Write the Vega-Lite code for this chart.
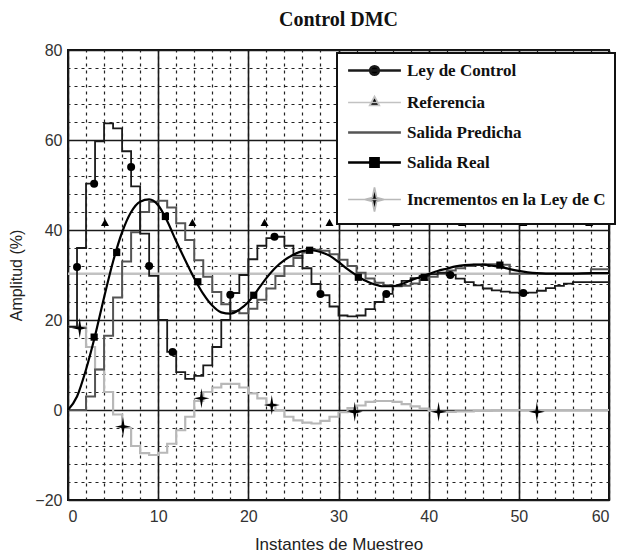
{
  "$schema": "https://vega.github.io/schema/vega-lite/v6.json",
  "width": 541,
  "height": 450,
  "autosize": {"type": "none"},
  "padding": {"left": 68, "top": 50, "right": 11, "bottom": 58},
  "background": "white",
  "title": {"text": "Control DMC", "font": "Liberation Serif", "fontSize": 20, "fontWeight": "bold", "color": "#111", "offset": 12, "anchor": "middle"},
  "config": {
    "view": {"stroke": "#111", "strokeWidth": 2},
    "legend": {"orient": "none", "legendX": 269, "legendY": 3}
  },
  "resolve": {"axis": {"x": "independent", "y": "independent"}},
  "datasets": {
    "lines": [
      {"series": "Referencia", "x": 0, "y": 30.3}, {"series": "Referencia", "x": 60, "y": 30.3},

      {"series": "Incrementos en la Ley de C", "x": 0, "y": 18.5}, {"series": "Incrementos en la Ley de C", "x": 1, "y": 18.5}, {"series": "Incrementos en la Ley de C", "x": 2, "y": 14}, {"series": "Incrementos en la Ley de C", "x": 3, "y": 9}, {"series": "Incrementos en la Ley de C", "x": 4, "y": 4}, {"series": "Incrementos en la Ley de C", "x": 5, "y": -1}, {"series": "Incrementos en la Ley de C", "x": 6, "y": -4}, {"series": "Incrementos en la Ley de C", "x": 7, "y": -8}, {"series": "Incrementos en la Ley de C", "x": 8, "y": -9.6}, {"series": "Incrementos en la Ley de C", "x": 9, "y": -10}, {"series": "Incrementos en la Ley de C", "x": 10, "y": -9.5}, {"series": "Incrementos en la Ley de C", "x": 11, "y": -7.5}, {"series": "Incrementos en la Ley de C", "x": 12, "y": -4.5}, {"series": "Incrementos en la Ley de C", "x": 13, "y": -1.5}, {"series": "Incrementos en la Ley de C", "x": 14, "y": 2}, {"series": "Incrementos en la Ley de C", "x": 15, "y": 4}, {"series": "Incrementos en la Ley de C", "x": 16, "y": 5}, {"series": "Incrementos en la Ley de C", "x": 17, "y": 5.8}, {"series": "Incrementos en la Ley de C", "x": 18, "y": 5.8}, {"series": "Incrementos en la Ley de C", "x": 19, "y": 5}, {"series": "Incrementos en la Ley de C", "x": 20, "y": 3.7}, {"series": "Incrementos en la Ley de C", "x": 21, "y": 2.6}, {"series": "Incrementos en la Ley de C", "x": 22, "y": 1.2}, {"series": "Incrementos en la Ley de C", "x": 23, "y": 0}, {"series": "Incrementos en la Ley de C", "x": 24, "y": -1.5}, {"series": "Incrementos en la Ley de C", "x": 25, "y": -2.3}, {"series": "Incrementos en la Ley de C", "x": 26, "y": -2.8}, {"series": "Incrementos en la Ley de C", "x": 27, "y": -3}, {"series": "Incrementos en la Ley de C", "x": 28, "y": -2.4}, {"series": "Incrementos en la Ley de C", "x": 29, "y": -1.5}, {"series": "Incrementos en la Ley de C", "x": 30, "y": -0.5}, {"series": "Incrementos en la Ley de C", "x": 31, "y": 0.4}, {"series": "Incrementos en la Ley de C", "x": 32, "y": 1}, {"series": "Incrementos en la Ley de C", "x": 33, "y": 1.8}, {"series": "Incrementos en la Ley de C", "x": 34, "y": 2}, {"series": "Incrementos en la Ley de C", "x": 35, "y": 2}, {"series": "Incrementos en la Ley de C", "x": 36, "y": 1.8}, {"series": "Incrementos en la Ley de C", "x": 37, "y": 1.3}, {"series": "Incrementos en la Ley de C", "x": 38, "y": 0.8}, {"series": "Incrementos en la Ley de C", "x": 39, "y": 0.3}, {"series": "Incrementos en la Ley de C", "x": 40, "y": -0.2}, {"series": "Incrementos en la Ley de C", "x": 41, "y": -0.4}, {"series": "Incrementos en la Ley de C", "x": 42, "y": -0.4}, {"series": "Incrementos en la Ley de C", "x": 43, "y": -0.3}, {"series": "Incrementos en la Ley de C", "x": 44, "y": -0.3}, {"series": "Incrementos en la Ley de C", "x": 45, "y": -0.2}, {"series": "Incrementos en la Ley de C", "x": 46, "y": -0.2}, {"series": "Incrementos en la Ley de C", "x": 47, "y": -0.1}, {"series": "Incrementos en la Ley de C", "x": 48, "y": 0}, {"series": "Incrementos en la Ley de C", "x": 52, "y": 0}, {"series": "Incrementos en la Ley de C", "x": 56, "y": 0}, {"series": "Incrementos en la Ley de C", "x": 60, "y": 0},

      {"series": "Salida Predicha", "x": 0, "y": 0}, {"series": "Salida Predicha", "x": 1, "y": 0}, {"series": "Salida Predicha", "x": 2, "y": 3}, {"series": "Salida Predicha", "x": 3, "y": 9}, {"series": "Salida Predicha", "x": 4, "y": 16.5}, {"series": "Salida Predicha", "x": 5, "y": 25}, {"series": "Salida Predicha", "x": 6, "y": 33}, {"series": "Salida Predicha", "x": 7, "y": 39.5}, {"series": "Salida Predicha", "x": 8, "y": 44}, {"series": "Salida Predicha", "x": 9, "y": 46.3}, {"series": "Salida Predicha", "x": 10, "y": 46.5}, {"series": "Salida Predicha", "x": 11, "y": 45}, {"series": "Salida Predicha", "x": 12, "y": 41.5}, {"series": "Salida Predicha", "x": 13, "y": 37.8}, {"series": "Salida Predicha", "x": 14, "y": 33.3}, {"series": "Salida Predicha", "x": 15, "y": 29.6}, {"series": "Salida Predicha", "x": 16, "y": 26.2}, {"series": "Salida Predicha", "x": 17, "y": 23.5}, {"series": "Salida Predicha", "x": 18, "y": 22}, {"series": "Salida Predicha", "x": 19, "y": 21.5}, {"series": "Salida Predicha", "x": 20, "y": 22.5}, {"series": "Salida Predicha", "x": 21, "y": 24.5}, {"series": "Salida Predicha", "x": 22, "y": 27}, {"series": "Salida Predicha", "x": 23, "y": 29.8}, {"series": "Salida Predicha", "x": 24, "y": 32}, {"series": "Salida Predicha", "x": 25, "y": 33.8}, {"series": "Salida Predicha", "x": 26, "y": 35}, {"series": "Salida Predicha", "x": 27, "y": 35.6}, {"series": "Salida Predicha", "x": 28, "y": 35.4}, {"series": "Salida Predicha", "x": 29, "y": 34.6}, {"series": "Salida Predicha", "x": 30, "y": 33.4}, {"series": "Salida Predicha", "x": 31, "y": 32}, {"series": "Salida Predicha", "x": 32, "y": 30.5}, {"series": "Salida Predicha", "x": 33, "y": 29.2}, {"series": "Salida Predicha", "x": 34, "y": 28.3}, {"series": "Salida Predicha", "x": 35, "y": 27.7}, {"series": "Salida Predicha", "x": 36, "y": 27.5}, {"series": "Salida Predicha", "x": 37, "y": 27.6}, {"series": "Salida Predicha", "x": 38, "y": 28.1}, {"series": "Salida Predicha", "x": 39, "y": 28.9}, {"series": "Salida Predicha", "x": 40, "y": 29.6}, {"series": "Salida Predicha", "x": 41, "y": 30.3}, {"series": "Salida Predicha", "x": 42, "y": 31}, {"series": "Salida Predicha", "x": 43, "y": 31.5}, {"series": "Salida Predicha", "x": 44, "y": 32}, {"series": "Salida Predicha", "x": 45, "y": 32.3}, {"series": "Salida Predicha", "x": 46, "y": 32.4}, {"series": "Salida Predicha", "x": 47, "y": 32.4}, {"series": "Salida Predicha", "x": 48, "y": 32.3}, {"series": "Salida Predicha", "x": 49, "y": 30.3}, {"series": "Salida Predicha", "x": 58, "y": 31.3}, {"series": "Salida Predicha", "x": 60, "y": 31.3},

      {"series": "Ley de Control", "x": 0, "y": 18.5}, {"series": "Ley de Control", "x": 1, "y": 36}, {"series": "Ley de Control", "x": 2, "y": 50.3}, {"series": "Ley de Control", "x": 3, "y": 59.7}, {"series": "Ley de Control", "x": 4, "y": 63.7}, {"series": "Ley de Control", "x": 5, "y": 62.6}, {"series": "Ley de Control", "x": 6, "y": 57.5}, {"series": "Ley de Control", "x": 7, "y": 49.7}, {"series": "Ley de Control", "x": 8, "y": 39.2}, {"series": "Ley de Control", "x": 9, "y": 29.8}, {"series": "Ley de Control", "x": 10, "y": 20}, {"series": "Ley de Control", "x": 11, "y": 12.9}, {"series": "Ley de Control", "x": 12, "y": 8.4}, {"series": "Ley de Control", "x": 13, "y": 6.9}, {"series": "Ley de Control", "x": 14, "y": 7.6}, {"series": "Ley de Control", "x": 15, "y": 9.9}, {"series": "Ley de Control", "x": 16, "y": 14}, {"series": "Ley de Control", "x": 17, "y": 20}, {"series": "Ley de Control", "x": 18, "y": 26}, {"series": "Ley de Control", "x": 19, "y": 30}, {"series": "Ley de Control", "x": 20, "y": 33.5}, {"series": "Ley de Control", "x": 21, "y": 36.5}, {"series": "Ley de Control", "x": 22, "y": 38.2}, {"series": "Ley de Control", "x": 23, "y": 38.5}, {"series": "Ley de Control", "x": 24, "y": 36.5}, {"series": "Ley de Control", "x": 25, "y": 34.3}, {"series": "Ley de Control", "x": 26, "y": 31.5}, {"series": "Ley de Control", "x": 27, "y": 28}, {"series": "Ley de Control", "x": 28, "y": 25.5}, {"series": "Ley de Control", "x": 29, "y": 23}, {"series": "Ley de Control", "x": 30, "y": 21}, {"series": "Ley de Control", "x": 31, "y": 20.8}, {"series": "Ley de Control", "x": 32, "y": 21}, {"series": "Ley de Control", "x": 33, "y": 22.4}, {"series": "Ley de Control", "x": 34, "y": 24}, {"series": "Ley de Control", "x": 35, "y": 25.8}, {"series": "Ley de Control", "x": 36, "y": 27.6}, {"series": "Ley de Control", "x": 37, "y": 28.7}, {"series": "Ley de Control", "x": 38, "y": 29.3}, {"series": "Ley de Control", "x": 39, "y": 29.8}, {"series": "Ley de Control", "x": 40, "y": 30.2}, {"series": "Ley de Control", "x": 41, "y": 30.5}, {"series": "Ley de Control", "x": 42, "y": 30}, {"series": "Ley de Control", "x": 43, "y": 29.2}, {"series": "Ley de Control", "x": 44, "y": 28.4}, {"series": "Ley de Control", "x": 45, "y": 27.7}, {"series": "Ley de Control", "x": 46, "y": 27}, {"series": "Ley de Control", "x": 47, "y": 26.6}, {"series": "Ley de Control", "x": 48, "y": 26.3}, {"series": "Ley de Control", "x": 49, "y": 26.1}, {"series": "Ley de Control", "x": 50, "y": 26}, {"series": "Ley de Control", "x": 51, "y": 26.1}, {"series": "Ley de Control", "x": 52, "y": 26.5}, {"series": "Ley de Control", "x": 53, "y": 27.1}, {"series": "Ley de Control", "x": 54, "y": 27.6}, {"series": "Ley de Control", "x": 55, "y": 28.1}, {"series": "Ley de Control", "x": 56, "y": 28.4}, {"series": "Ley de Control", "x": 60, "y": 28.4},

      {"series": "Salida Real", "x": 0, "y": 0}, {"series": "Salida Real", "x": 1, "y": 3}, {"series": "Salida Real", "x": 2, "y": 9}, {"series": "Salida Real", "x": 3, "y": 16.5}, {"series": "Salida Real", "x": 4, "y": 25}, {"series": "Salida Real", "x": 5, "y": 33}, {"series": "Salida Real", "x": 6, "y": 39.5}, {"series": "Salida Real", "x": 7, "y": 44}, {"series": "Salida Real", "x": 8, "y": 46.3}, {"series": "Salida Real", "x": 9, "y": 46.8}, {"series": "Salida Real", "x": 10, "y": 45.5}, {"series": "Salida Real", "x": 11, "y": 42}, {"series": "Salida Real", "x": 12, "y": 37.5}, {"series": "Salida Real", "x": 13, "y": 33.3}, {"series": "Salida Real", "x": 14, "y": 29.3}, {"series": "Salida Real", "x": 15, "y": 25.8}, {"series": "Salida Real", "x": 16, "y": 23.2}, {"series": "Salida Real", "x": 17, "y": 21.7}, {"series": "Salida Real", "x": 18, "y": 21.4}, {"series": "Salida Real", "x": 19, "y": 22.3}, {"series": "Salida Real", "x": 20, "y": 24}, {"series": "Salida Real", "x": 21, "y": 26.6}, {"series": "Salida Real", "x": 22, "y": 29.3}, {"series": "Salida Real", "x": 23, "y": 31.6}, {"series": "Salida Real", "x": 24, "y": 33.3}, {"series": "Salida Real", "x": 25, "y": 34.5}, {"series": "Salida Real", "x": 26, "y": 35.3}, {"series": "Salida Real", "x": 27, "y": 35.5}, {"series": "Salida Real", "x": 28, "y": 35.1}, {"series": "Salida Real", "x": 29, "y": 34.3}, {"series": "Salida Real", "x": 30, "y": 32.9}, {"series": "Salida Real", "x": 31, "y": 31.3}, {"series": "Salida Real", "x": 32, "y": 29.9}, {"series": "Salida Real", "x": 33, "y": 28.7}, {"series": "Salida Real", "x": 34, "y": 27.9}, {"series": "Salida Real", "x": 35, "y": 27.5}, {"series": "Salida Real", "x": 36, "y": 27.5}, {"series": "Salida Real", "x": 37, "y": 28}, {"series": "Salida Real", "x": 38, "y": 28.8}, {"series": "Salida Real", "x": 39, "y": 29.5}, {"series": "Salida Real", "x": 40, "y": 30.2}, {"series": "Salida Real", "x": 41, "y": 30.9}, {"series": "Salida Real", "x": 42, "y": 31.4}, {"series": "Salida Real", "x": 43, "y": 31.9}, {"series": "Salida Real", "x": 44, "y": 32.2}, {"series": "Salida Real", "x": 45, "y": 32.3}, {"series": "Salida Real", "x": 46, "y": 32.3}, {"series": "Salida Real", "x": 47, "y": 32.1}, {"series": "Salida Real", "x": 48, "y": 31.8}, {"series": "Salida Real", "x": 49, "y": 31.3}, {"series": "Salida Real", "x": 50, "y": 30.9}, {"series": "Salida Real", "x": 51, "y": 30.6}, {"series": "Salida Real", "x": 52, "y": 30.4}, {"series": "Salida Real", "x": 53, "y": 30.3}, {"series": "Salida Real", "x": 56, "y": 30.3}, {"series": "Salida Real", "x": 58, "y": 30.4}, {"series": "Salida Real", "x": 60, "y": 30.4}
    ],
    "markers": [
      {"series": "Ley de Control", "x": 1, "y": 31.8}, {"series": "Ley de Control", "x": 2.9, "y": 50.3}, {"series": "Ley de Control", "x": 7, "y": 54}, {"series": "Ley de Control", "x": 9, "y": 32}, {"series": "Ley de Control", "x": 11.6, "y": 12.9}, {"series": "Ley de Control", "x": 18, "y": 25.6}, {"series": "Ley de Control", "x": 22.9, "y": 38.5}, {"series": "Ley de Control", "x": 28, "y": 25.8}, {"series": "Ley de Control", "x": 35.3, "y": 25.8}, {"series": "Ley de Control", "x": 42.4, "y": 30}, {"series": "Ley de Control", "x": 50.5, "y": 26},
      {"series": "Referencia", "x": 4.1, "y": 41.5}, {"series": "Referencia", "x": 13.8, "y": 41.5}, {"series": "Referencia", "x": 21.8, "y": 41.5}, {"series": "Referencia", "x": 29, "y": 41.5}, {"series": "Referencia", "x": 36.4, "y": 41.5}, {"series": "Referencia", "x": 43.7, "y": 41.5}, {"series": "Referencia", "x": 50.5, "y": 41.5}, {"series": "Referencia", "x": 57.8, "y": 41.5},
      {"series": "Salida Real", "x": 2.9, "y": 16.2}, {"series": "Salida Real", "x": 5.4, "y": 35}, {"series": "Salida Real", "x": 10.8, "y": 43}, {"series": "Salida Real", "x": 14.4, "y": 28.5}, {"series": "Salida Real", "x": 20.6, "y": 25.5}, {"series": "Salida Real", "x": 26.8, "y": 35.5}, {"series": "Salida Real", "x": 32.2, "y": 29.5}, {"series": "Salida Real", "x": 39.5, "y": 29.5}, {"series": "Salida Real", "x": 47.9, "y": 32.2},
      {"series": "Incrementos en la Ley de C", "x": 1.3, "y": 18.2}, {"series": "Incrementos en la Ley de C", "x": 6.1, "y": -3.7}, {"series": "Incrementos en la Ley de C", "x": 14.8, "y": 2.6}, {"series": "Incrementos en la Ley de C", "x": 22.6, "y": 1.1}, {"series": "Incrementos en la Ley de C", "x": 31.8, "y": -0.4}, {"series": "Incrementos en la Ley de C", "x": 41.1, "y": -0.4}, {"series": "Incrementos en la Ley de C", "x": 52, "y": -0.4}
    ]
  },
  "layer": [
    {
      "data": {"name": "lines"},
      "transform": [{"filter": "datum.series === 'Referencia'"}],
      "mark": {"type": "line", "strokeWidth": 2.5},
      "encoding": {
        "x": {"field": "x", "type": "quantitative", "scale": {"domain": [0, 60], "nice": false, "zero": false},
              "axis": {"orient": "top", "values": [0,2,4,6,8,10,12,14,16,18,20,22,24,26,28,30,32,34,36,38,40,42,44,46,48,50,52,54,56,58,60], "grid": true, "gridDash": [3, 4], "gridColor": "#222", "gridWidth": 1.2, "labels": false, "ticks": false, "domain": false, "title": null}},
        "y": {"field": "y", "type": "quantitative", "scale": {"domain": [-20, 80], "nice": false, "zero": false},
              "axis": {"orient": "right", "values": [-20,-16,-12,-8,-4,0,4,8,12,16,20,24,28,32,36,40,44,48,52,56,60,64,68,72,76,80], "grid": true, "gridDash": [3, 4], "gridColor": "#222", "gridWidth": 1.2, "labels": false, "ticks": false, "domain": false, "title": null}},
        "stroke": {"field": "series", "type": "nominal",
          "scale": {"domain": ["Ley de Control", "Referencia", "Salida Predicha", "Salida Real", "Incrementos en la Ley de C"], "range": ["#1a1a1a", "#c2c2c2", "#555555", "#000000", "#b8b8b8"]},
          "legend": {"title": null, "symbolSize": 576, "symbolStrokeWidth": 2.5, "symbolOffset": 20, "labelOffset": 24, "padding": 9, "rowPadding": 12, "strokeColor": "#111", "fillColor": "white", "labelFont": "Liberation Serif", "labelFontWeight": "bold", "labelFontSize": 17, "labelColor": "#111", "labelLimit": 400,
            "encode": {"legend": {"update": {"strokeWidth": {"value": 2}}}, "symbols": {"update": {"fill": {"value": "#000"}, "opacity": {"value": 1}, "strokeWidth": {"signal": "datum.value === 'Referencia' || datum.value === 'Incrementos en la Ley de C' ? 1.7 : 2.6"}, "shape": {"signal": "datum.value === 'Ley de Control' ? 'M-2.2,0H2.2M0.36,0A0.36,0.36,0,1,1,-0.36,0A0.36,0.36,0,1,1,0.36,0Z' : datum.value === 'Referencia' ? 'M-2.2,0H2.2M0,-0.5L0.4,0.25L-0.4,0.25Z' : datum.value === 'Salida Predicha' ? 'M-2.2,0H2.2' : datum.value === 'Salida Real' ? 'M-2.2,0H2.2M-0.34,-0.34H0.34V0.34H-0.34Z' : 'M-2.2,0H2.2M0,-1L0.17,-0.17L0.8,0L0.17,0.17L0,1L-0.17,0.17L-0.8,0L-0.17,-0.17Z'"}}}}}}
      }
    },
    {
      "data": {"name": "lines"},
      "transform": [{"filter": "datum.series === 'Incrementos en la Ley de C'"}],
      "mark": {"type": "line", "interpolate": "step-after", "strokeWidth": 2.2},
      "encoding": {
        "x": {"field": "x", "type": "quantitative",
              "axis": {"orient": "bottom", "values": [0, 10, 20, 30, 40, 50, 60], "grid": true, "gridColor": "#1a1a1a", "gridWidth": 1.6, "ticks": false, "domain": false, "labelFont": "Liberation Sans", "labelFontSize": 16, "labelColor": "#333", "labelPadding": 8, "title": "Instantes de Muestreo", "titleFont": "Liberation Sans", "titleFontSize": 17, "titleFontWeight": "normal", "titleColor": "#222", "titlePadding": 12}},
        "y": {"field": "y", "type": "quantitative",
              "axis": {"orient": "left", "values": [-20, 0, 20, 40, 60, 80], "grid": true, "gridColor": "#1a1a1a", "gridWidth": 1.6, "ticks": false, "domain": false, "labelFont": "Liberation Sans", "labelFontSize": 16, "labelColor": "#333", "labelPadding": 6, "title": "Amplitud (%)", "titleFont": "Liberation Sans", "titleFontSize": 16, "titleFontWeight": "normal", "titleColor": "#222", "titlePadding": 10}},
        "stroke": {"field": "series", "type": "nominal"}
      }
    },
    {
      "data": {"name": "lines"},
      "transform": [{"filter": "datum.series === 'Salida Predicha'"}],
      "mark": {"type": "line", "interpolate": "step-after", "strokeWidth": 2},
      "encoding": {
        "x": {"field": "x", "type": "quantitative", "axis": null},
        "y": {"field": "y", "type": "quantitative", "axis": null},
        "stroke": {"field": "series", "type": "nominal"}
      }
    },
    {
      "data": {"name": "lines"},
      "transform": [{"filter": "datum.series === 'Ley de Control'"}],
      "mark": {"type": "line", "interpolate": "step-after", "strokeWidth": 1.8},
      "encoding": {
        "x": {"field": "x", "type": "quantitative", "axis": null},
        "y": {"field": "y", "type": "quantitative", "axis": null},
        "stroke": {"field": "series", "type": "nominal"}
      }
    },
    {
      "data": {"name": "lines"},
      "transform": [{"filter": "datum.series === 'Salida Real'"}],
      "mark": {"type": "line", "interpolate": "monotone", "strokeWidth": 2.2},
      "encoding": {
        "x": {"field": "x", "type": "quantitative", "axis": null},
        "y": {"field": "y", "type": "quantitative", "axis": null},
        "stroke": {"field": "series", "type": "nominal"}
      }
    },
    {
      "data": {"name": "markers"},
      "mark": {"type": "point", "filled": true, "color": "#000", "size": 64, "opacity": 1},
      "encoding": {
        "x": {"field": "x", "type": "quantitative", "axis": null},
        "y": {"field": "y", "type": "quantitative", "axis": null},
        "shape": {"field": "series", "type": "nominal", "legend": null,
          "scale": {"domain": ["Ley de Control", "Referencia", "Salida Real", "Incrementos en la Ley de C"], "range": ["circle", "M0,-1.1L1,0.7L-1,0.7Z", "M-0.9,-0.9H0.9V0.9H-0.9Z", "M0,-2.5L0.35,-0.35L2,0L0.35,0.35L0,2.5L-0.35,0.35L-2,0L-0.35,-0.35Z"]}}
      }
    }
  ]
}
